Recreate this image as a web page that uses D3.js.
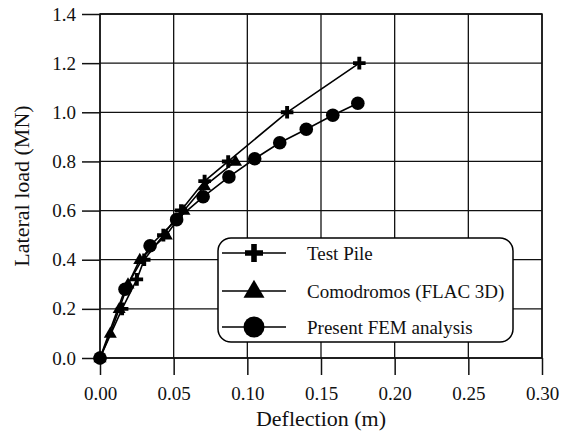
<!DOCTYPE html>
<html>
<head>
<meta charset="utf-8">
<script src="https://cdn.jsdelivr.net/npm/d3@7"></script>
<style>
  html, body { margin: 0; padding: 0; background: #fff; }
  svg { display: block; font-family: "Liberation Serif", "Times New Roman", serif; }
</style>
</head>
<body>
<svg id="chart" width="562" height="436"></svg>
<script>
// Load–deflection curves for a laterally loaded pile
const testPileX = [0, 0.015, 0.025, 0.030, 0.043, 0.055, 0.071, 0.087, 0.127, 0.176];
const testPileY = [0, 0.20, 0.32, 0.40, 0.50, 0.60, 0.72, 0.80, 1.00, 1.20];

const comodromosX = [0, 0.007, 0.013, 0.019, 0.027, 0.045, 0.057, 0.071, 0.092];
const comodromosY = [0, 0.10, 0.20, 0.30, 0.40, 0.50, 0.60, 0.70, 0.80];

const femX = [0, 0.017, 0.034, 0.052, 0.070, 0.0875, 0.105, 0.122, 0.140, 0.158, 0.175];
const femY = [0, 0.28, 0.457, 0.563, 0.656, 0.737, 0.811, 0.876, 0.931, 0.988, 1.037];

const xTicks = [0, 0.05, 0.10, 0.15, 0.20, 0.25, 0.30];
const yTicks = [0, 0.2, 0.4, 0.6, 0.8, 1.0, 1.2, 1.4];

const seriesNames = ["Test Pile", "Comodromos (FLAC 3D)", "Present FEM analysis"];
const seriesShapes = ["cross", "triangle", "circle"];

const series = [
  { name: seriesNames[0], shape: seriesShapes[0], xs: testPileX, ys: testPileY },
  { name: seriesNames[1], shape: seriesShapes[1], xs: comodromosX, ys: comodromosY },
  { name: seriesNames[2], shape: seriesShapes[2], xs: femX, ys: femY }
];

const svg = d3.select("#chart");
const plotLeft = 100, plotRight = 542, plotTop = 14, plotBottom = 358;
const serif = "Liberation Serif, Times New Roman, serif";

const x = d3.scaleLinear().domain([0, 0.30]).range([plotLeft, plotRight]);
const y = d3.scaleLinear().domain([0, 1.4]).range([plotBottom, plotTop]);

// grid
const grid = svg.append("g").attr("stroke", "#111").attr("stroke-width", 1.3);
grid.selectAll("line.v").data(xTicks).join("line")
  .attr("x1", d => x(d)).attr("x2", d => x(d))
  .attr("y1", plotTop).attr("y2", plotBottom);
grid.selectAll("line.h").data(yTicks).join("line")
  .attr("x1", plotLeft).attr("x2", plotRight)
  .attr("y1", d => y(d)).attr("y2", d => y(d));

// frame
svg.append("rect").attr("x", plotLeft).attr("y", plotTop)
  .attr("width", plotRight - plotLeft).attr("height", plotBottom - plotTop)
  .attr("fill", "none").attr("stroke", "#111").attr("stroke-width", 1.5);

// axes
const xAxis = d3.axisBottom(x).tickValues(xTicks).tickFormat(d3.format(".2f"))
  .tickSize(17).tickSizeOuter(0).tickPadding(12);
const gx = svg.append("g").attr("transform", `translate(0,${plotBottom})`).call(xAxis);
gx.attr("font-family", serif);
gx.select(".domain").remove();
gx.selectAll("line").attr("stroke", "#111").attr("stroke-width", 1.5);
gx.selectAll("text").attr("font-size", 19).attr("fill", "#111");

const yAxis = d3.axisLeft(y).tickValues(yTicks).tickFormat(d3.format(".1f"))
  .tickSize(18).tickSizeOuter(0).tickPadding(6);
const gy = svg.append("g").attr("transform", `translate(${plotLeft},0)`).call(yAxis);
gy.attr("font-family", serif);
gy.select(".domain").remove();
gy.selectAll("line").attr("stroke", "#111").attr("stroke-width", 1.5);
gy.selectAll("text").attr("font-size", 19).attr("fill", "#111");

// axis titles
svg.append("text").attr("x", (plotLeft + plotRight) / 2).attr("y", 426)
  .attr("text-anchor", "middle").attr("font-size", 22).attr("fill", "#111")
  .text("Deflection (m)");
svg.append("text").attr("transform", `translate(29,${(plotTop + plotBottom) / 2}) rotate(-90)`)
  .attr("text-anchor", "middle").attr("font-size", 22).attr("fill", "#111")
  .text("Lateral load (MN)");

// marker drawing
function drawMarker(g, shape, cx, cy, s) {
  if (shape === "cross") {
    g.append("path")
      .attr("d", `M${cx - s},${cy}H${cx + s}M${cx},${cy - s}V${cy + s}`)
      .attr("stroke", "#000").attr("stroke-width", s * 0.62).attr("fill", "none");
  } else if (shape === "triangle") {
    const h = s * 1.8;
    g.append("path")
      .attr("d", `M${cx},${cy - h * 0.62}L${cx + s * 1.05},${cy + h * 0.38}L${cx - s * 1.05},${cy + h * 0.38}Z`)
      .attr("fill", "#000");
  } else {
    g.append("circle").attr("cx", cx).attr("cy", cy).attr("r", s).attr("fill", "#000");
  }
}

const line = d3.line().x(d => x(d[0])).y(d => y(d[1]));
const sizes = { cross: 6.3, triangle: 6.2, circle: 6.8 };

series.forEach(s => {
  const pts = s.xs.map((v, i) => [v, s.ys[i]]);
  const g = svg.append("g");
  g.append("path").datum(pts).attr("d", line)
    .attr("fill", "none").attr("stroke", "#000").attr("stroke-width", 1.6);
  pts.forEach(p => drawMarker(g, s.shape, x(p[0]), y(p[1]), sizes[s.shape]));
});

// legend
const lg = svg.append("g");
lg.append("rect").attr("x", 218).attr("y", 238).attr("width", 295).attr("height", 104)
  .attr("rx", 13).attr("ry", 13).attr("fill", "#fff").attr("stroke", "#000").attr("stroke-width", 1.5);
const rowY = [253, 291, 327];
const legendSizes = { cross: 9, triangle: 10, circle: 10.5 };
series.forEach((s, i) => {
  lg.append("line").attr("x1", 222).attr("x2", 286).attr("y1", rowY[i]).attr("y2", rowY[i])
    .attr("stroke", "#000").attr("stroke-width", 1.6);
  drawMarker(lg, s.shape, 254, rowY[i], legendSizes[s.shape]);
  lg.append("text").attr("x", 307).attr("y", rowY[i]).attr("dy", "0.35em")
    .attr("font-size", 19).attr("fill", "#111").text(s.name);
});
</script>
</body>
</html>
